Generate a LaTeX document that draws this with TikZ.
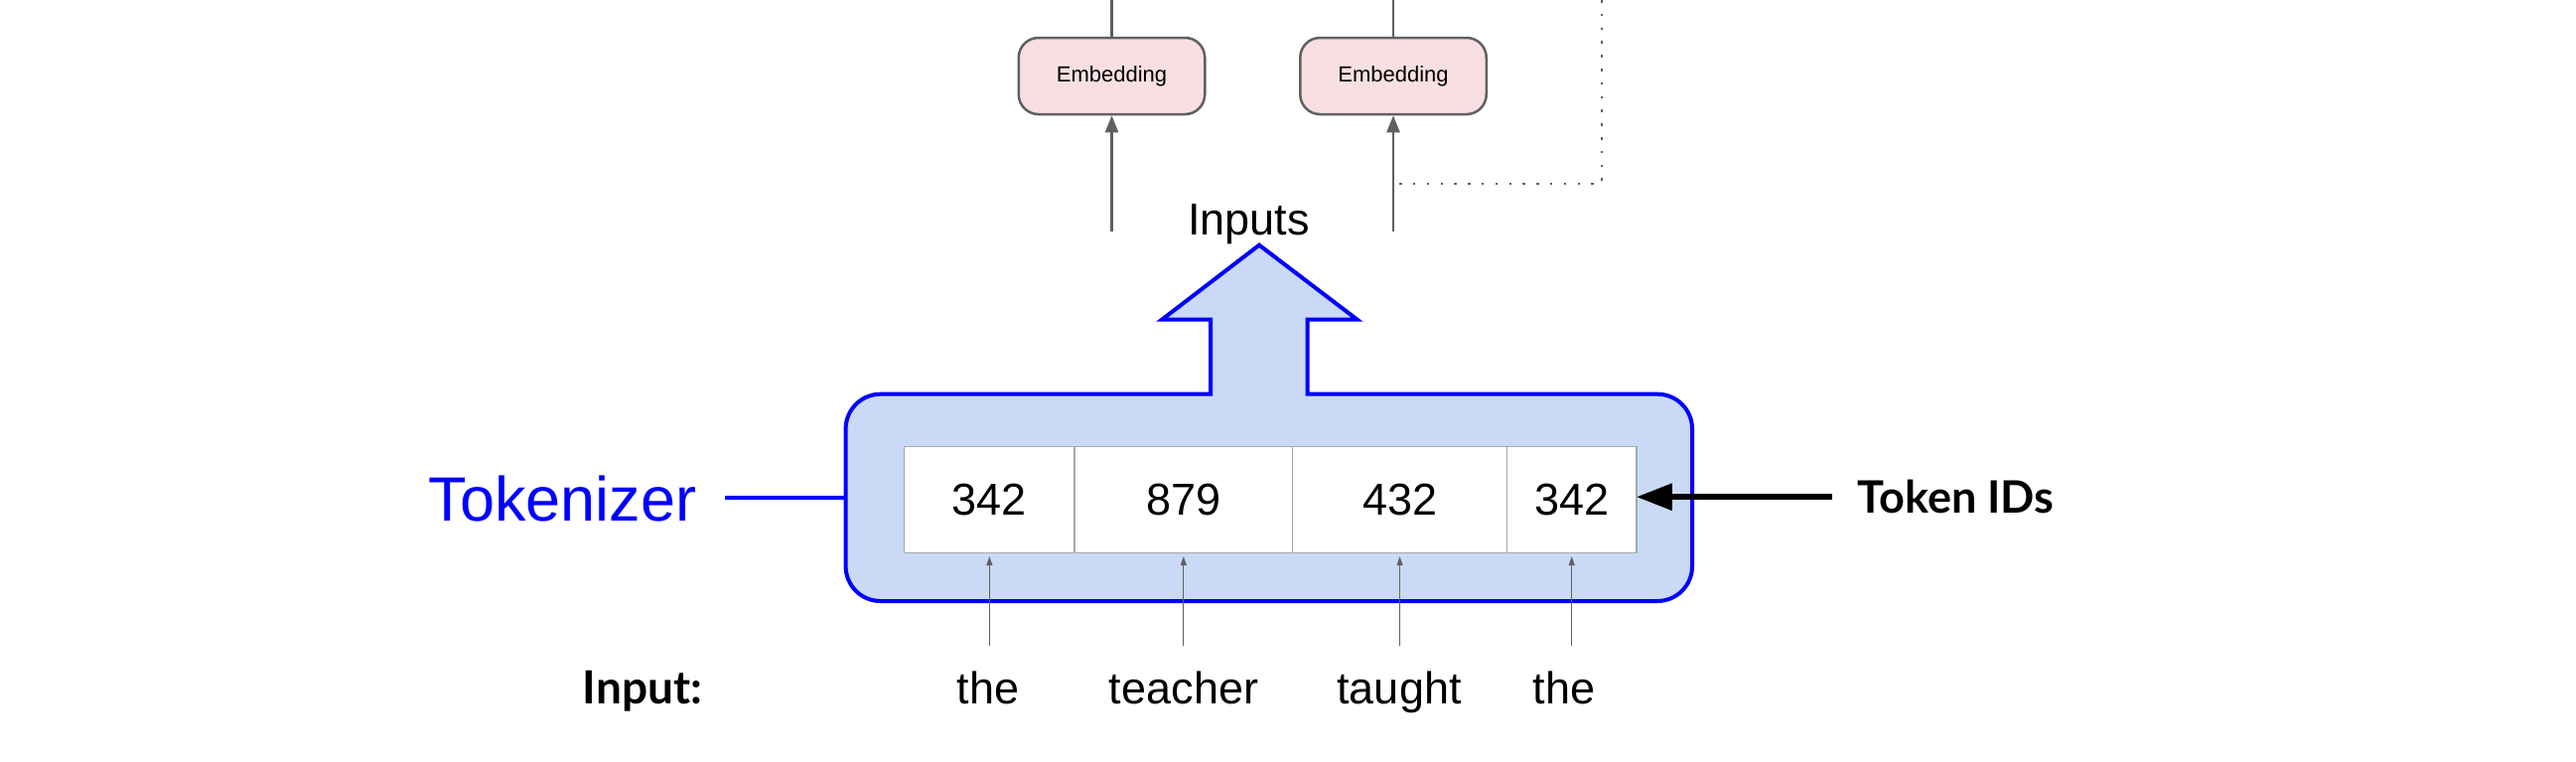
\documentclass[tikz,border=0pt]{standalone}
\usepackage{fontspec}
\setmainfont{Liberation Sans}
\newfontfamily\latofont{Lato}
\usetikzlibrary{arrows.meta,positioning}

\definecolor{tokblue}{RGB}{0,0,255}
\definecolor{tokfill}{RGB}{202,218,246}
\definecolor{embfill}{RGB}{248,223,226}
\definecolor{embline}{RGB}{96,96,96}
\definecolor{cellline}{RGB}{168,168,168}

\tikzset{every picture/.style={line width=0.75pt}}
\tikzset{
  embbox/.style={draw=embline, line width=1.25pt, fill=embfill, rounded corners=10pt,
    minimum width=93.75pt, minimum height=38.5pt, inner sep=0pt, font=\fontsize{11}{13}\selectfont},
  cell/.style={draw=cellline, line width=0.75pt, fill=white, minimum height=53.7pt,
    inner sep=0pt, outer sep=0pt, font=\fontsize{22.5}{27}\selectfont},
  word/.style={inner sep=12.4pt, anchor=base, font=\fontsize{22.5}{27}\selectfont},
  grayline/.style={draw=embline, line width=1.25pt},
  grayarrow/.style={grayline, -{Triangle[length=8.5pt,width=6.5pt]}},
  inarrow/.style={draw=embline, line width=0.6pt, -{Triangle[length=4.5pt,width=3pt]}, shorten >=1.7pt},
  dotline/.style={draw=embline, line width=1.25pt, dash pattern=on 1.25pt off 5.65pt},
  tidarrow/.style={draw=black, line width=3pt, -{Triangle[length=18pt,width=13pt]}},
  blueline/.style={draw=tokblue, line width=2pt}
}

\begin{document}
\begin{tikzpicture}[x=0.5pt,y=0.5pt,yscale=-1]
\useasboundingbox (0,0) rectangle (2594,766);

%Shape: Embedding boxes
\node[embbox] (e1) at (1119.5,76.5) {Embedding};
\node[embbox] (e2) at (1403,76.5) {Embedding};
\coordinate (e1top) at (1119.5,0);
\coordinate (e2top) at (1403,0);
\coordinate (e1in) at (1119.5,233);
\coordinate (e2in) at (1403,233);
\coordinate (dottop) at (1613,0);
\coordinate (dotbend) at (1613,185);
\draw[grayline] (e1.north) -- (e1top);
\draw[grayline] (e2.north) -- (e2top);
\draw[grayarrow] (e1in) -- (e1.south);
\draw[grayarrow] (e2in) -- (e2.south);
\draw[dotline] (dottop) -- (dotbend) -- (dotbend -| e2in);

%Shape: Tokenizer box with Inputs arrow
\draw[blueline, fill=tokfill] (1000,396.7) -- (1219,396.7) -- (1219,321.7) -- (1170,321.7) -- (1268,246.7) -- (1366.7,321.7) -- (1316.7,321.7) -- (1316.7,396.7) [rounded corners=17.5pt] -- (1704,396.7) -- (1704,605) -- (851.6,605) -- (851.6,396.7) -- cycle;
\coordinate (boxW) at (851.6,501);

%Shape: Token ID cells
\node[cell, minimum width=85.65pt, anchor=west] (c1) at (910.7,503) {342};
\node[cell, minimum width=109.8pt, right=0pt of c1] (c2) {879};
\node[cell, minimum width=107.95pt, right=0pt of c2] (c3) {432};
\node[cell, minimum width=65.15pt, right=0pt of c3] (c4) {342};

% Text Node
\node[anchor=base, font=\fontsize{22.5}{27}\selectfont] (inputs) at (1257.5,236.7) {Inputs};
% Text Node
\node[anchor=base west, inner xsep=14pt, inner ysep=0pt, text=tokblue, font=\fontsize{31.5}{38}\selectfont] (tok) at (403,524) {Tokenizer};
\draw[blueline] (tok.east) -- (tok.east -| boxW);
% Text Node
\node[anchor=base west, inner xsep=12.5pt, inner ysep=0pt, font={\latofont\bfseries\fontsize{22.5}{27}\selectfont}] (tid) at (1845,516.7) {Token IDs};
\draw[tidarrow] (tid.west) -- (tid.west -| c4.east);
% Text Node
\node[anchor=base west, inner sep=0pt, font={\latofont\bfseries\fontsize{23}{28}\selectfont}] (inlabel) at (586,708) {Input:};

% words
\node[word] (w1) at (995,708) {the};
\node[word] (w2) at (1192,708) {teacher};
\node[word] (w3) at (1409,708) {taught};
\node[word] (w4) at (1575,708) {the};
\draw[inarrow] (w1.north -| c1.south) -- (c1.south);
\draw[inarrow] (w2.north -| c2.south) -- (c2.south);
\draw[inarrow] (w3.north -| c3.south) -- (c3.south);
\draw[inarrow] (w4.north -| c4.south) -- (c4.south);

\end{tikzpicture}
\end{document}
